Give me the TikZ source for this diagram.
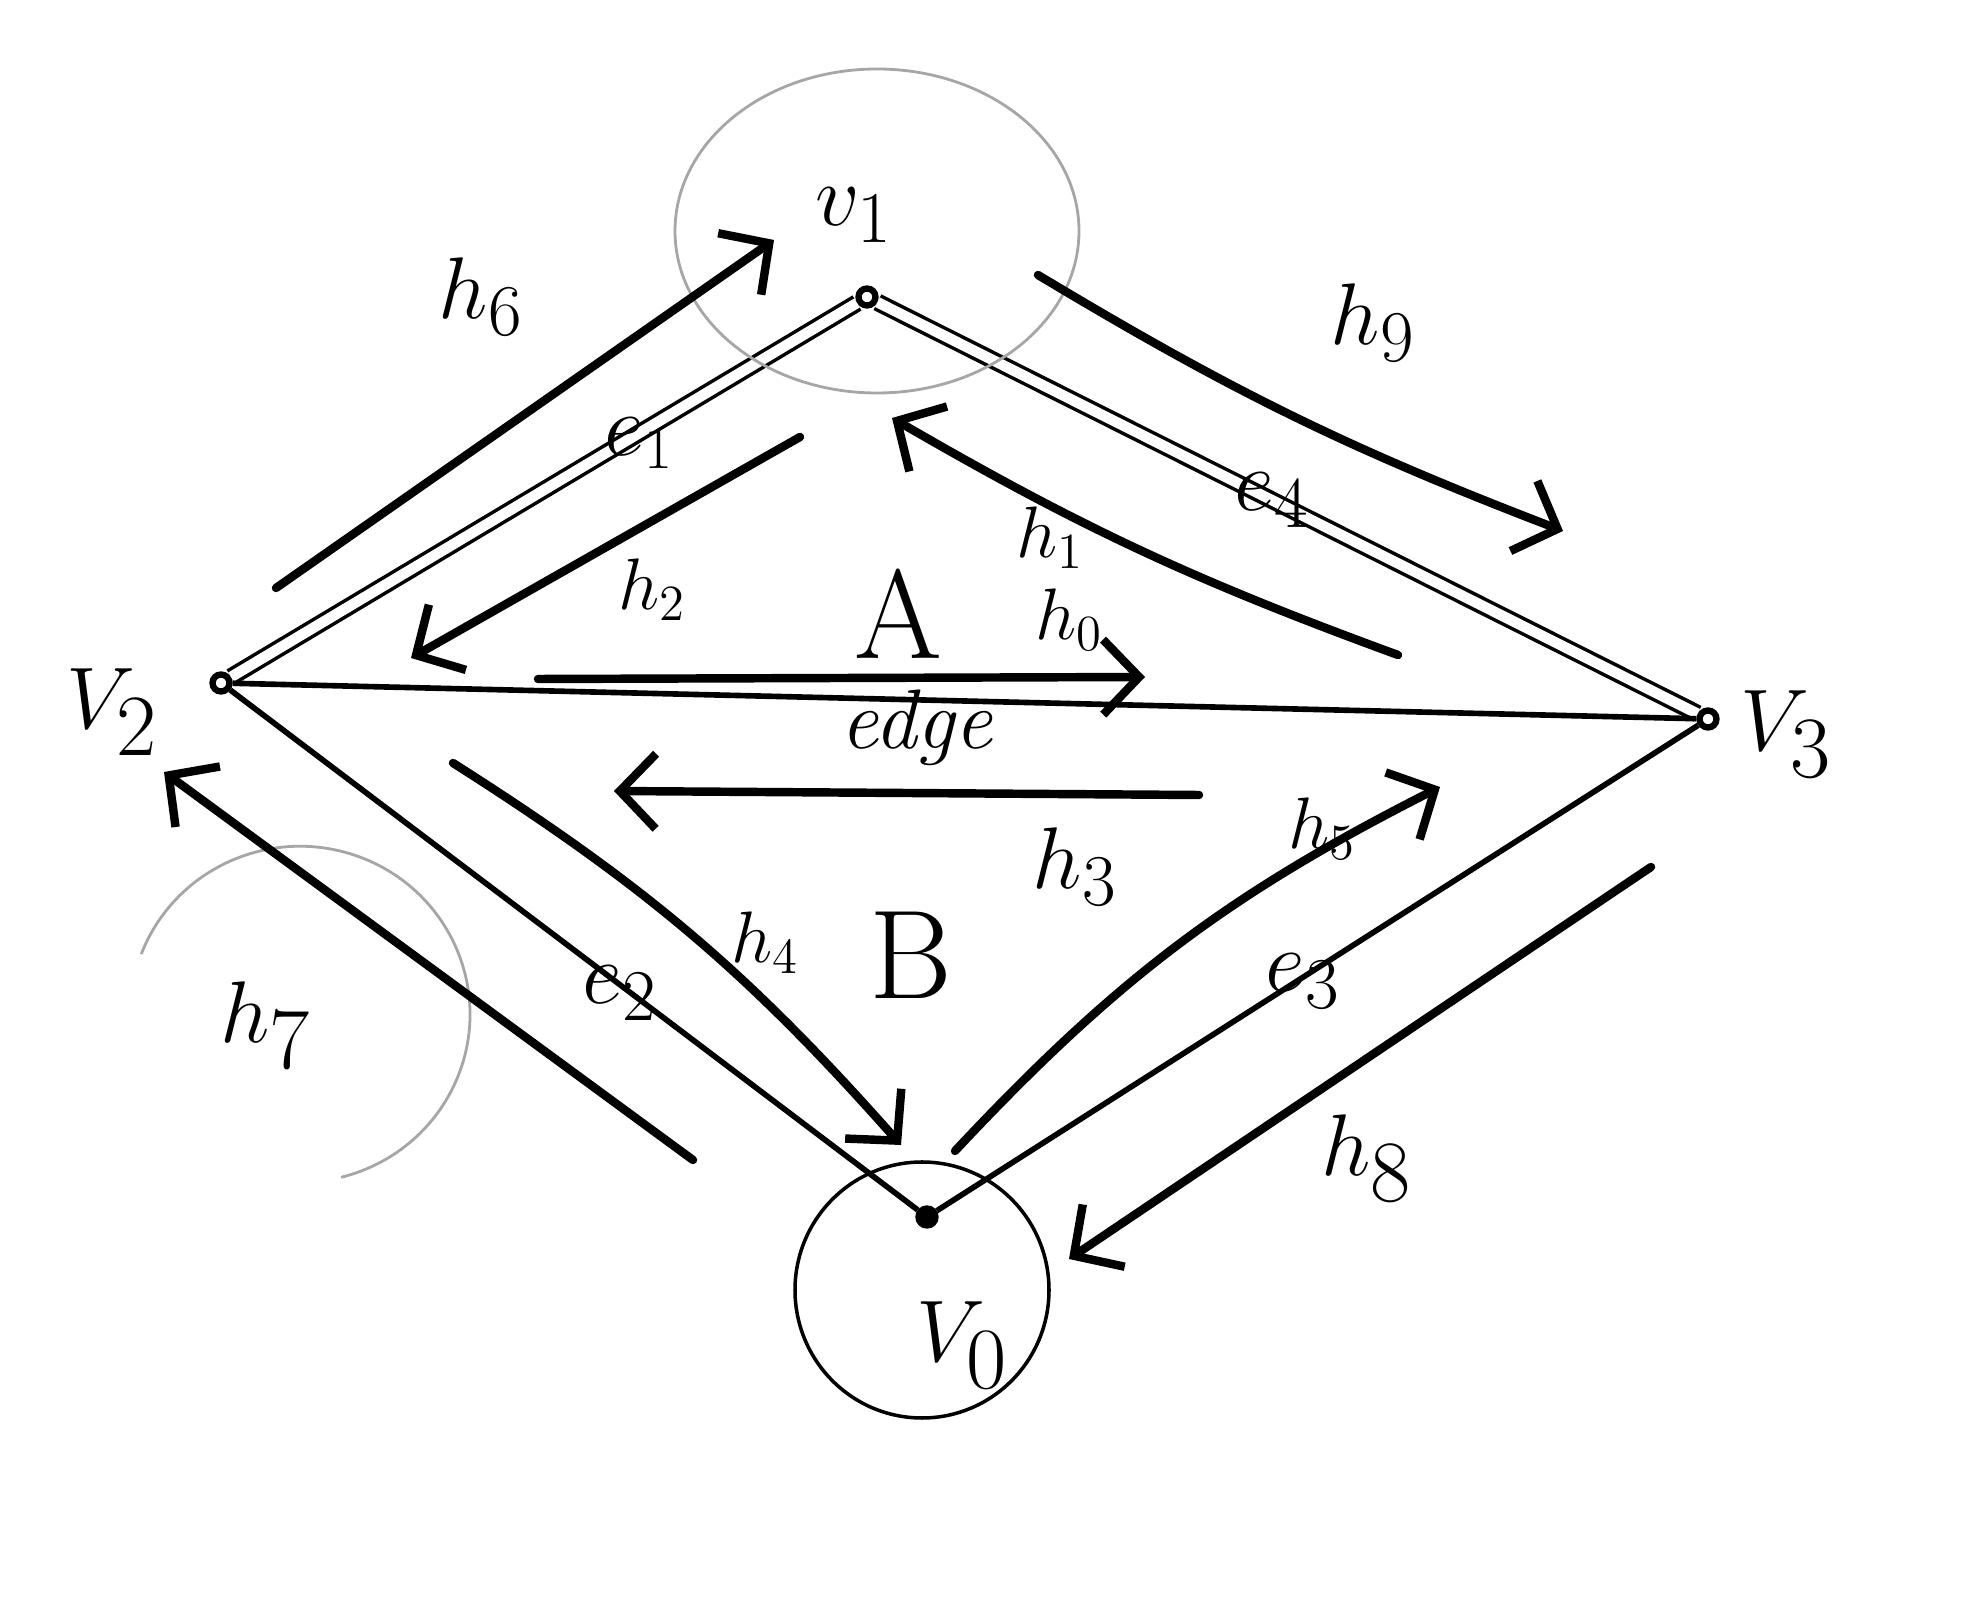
\documentclass[tikz,border=0pt]{standalone}
\usetikzlibrary{arrows.meta}

\begin{document}
\begin{tikzpicture}[x=0.01cm, y=0.01cm,
                vert/.style={circle, draw, line width=1.8pt, inner sep=0pt, minimum size=0.17cm},
                tag/.style={font=\fontsize{#1}{#1}\selectfont, inner sep=0pt},
                tag/.default=24,
                side/.style={line width=1.6pt},
                twin/.style={line width=1pt, double, double distance=3pt},
                half/.style={line width=2.4pt, line cap=round, -{Straight Barb[length=0.36cm, width=0.75cm, line width=2.4pt]}},
                ring/.style={gray!70, line width=0.8pt}
            ]
            \useasboundingbox (0,0) rectangle (1984,-1598);
            % vertices
            \node (v1) [vert] at (867,-297) {};
            \node (v2) [vert] at (221,-683) {};
            \node (v3) [vert] at (1708,-719) {};
            \node (v0) [vert, fill=black] at (927,-1217) {};
            % edges
            \draw[twin] (v1) -- (v2);
            \draw[twin] (v1) -- (v3);
            \draw[side] (v2) -- (v3);
            \draw[side] (v2) -- (v0);
            \draw[side] (v0) -- (v3);
            % rings
            \draw[ring] (877,-231) ellipse [x radius=202, y radius=162];
            \draw[ring] (300,-1015) ++(159:170) arc [start angle=159, end angle=-76, x radius=170, y radius=168];
            \draw[line width=1pt] (922,-1290) ellipse [x radius=127, y radius=128];
            % half edges
            \coordinate (h6s) at (276,-588);   \coordinate (h6e) at (774,-240);
            \coordinate (h2s) at (800,-437);   \coordinate (h2e) at (411,-658);
            \coordinate (h9s) at (1038,-275);  \coordinate (h9e) at (1563,-531);
            \coordinate (h1s) at (1398,-655);  \coordinate (h1e) at (892,-418);
            \coordinate (h0s) at (538,-679);   \coordinate (h0e) at (1145,-677);
            \coordinate (h3s) at (1199,-795);  \coordinate (h3e) at (614,-791);
            \coordinate (h4s) at (453,-763);   \coordinate (h4e) at (901,-1145);
            \coordinate (h5s) at (955,-1151);  \coordinate (h5e) at (1440,-787);
            \coordinate (h8s) at (1651,-867);  \coordinate (h8e) at (1069,-1259);
            \coordinate (h7s) at (693,-1160);  \coordinate (h7e) at (164,-772);
            \draw[half] (h6s) -- (h6e);
            \draw[half] (h2s) -- (h2e);
            \draw[half] (h9s) to[bend right=5] (h9e);
            \draw[half] (h1s) to[bend left=5] (h1e);
            \draw[half] (h0s) -- (h0e);
            \draw[half] (h3s) -- (h3e);
            \draw[half] (h4s) to[bend left=8] (h4e);
            \draw[half] (h5s) to[bend left=10] (h5e);
            \draw[half] (h8s) -- (h8e);
            \draw[half] (h7s) -- (h7e);
            % labels
            \node (lv1) [tag=30] at (854,-215) {$v_1$};
            \node (lv2) [tag=34] at (112,-712) {$V_2$};
            \node (lv3) [tag=34] at (1786,-734) {$V_3$};
            \node (lv0) [tag=34] at (962,-1345) {$V_0$};
            \node (l6) [tag=30] at (481,-297) {$h_6$};
            \node (l9) [tag=32] at (1373,-323) {$h_9$};
            \node (le1) [tag=26] at (639,-443) {$e_1$};
            \node (le4) [tag=30] at (1272,-500) {$e_4$};
            \node (l2) [tag=22] at (652,-590) {$h_2$};
            \node (lA) [tag=36] at (898,-614) {A};
            \node (l1) [tag=22] at (1050,-538) {$h_1$};
            \node (l0) [tag=22] at (1069,-620) {$h_0$};
            \node (ledge) [tag=24] at (917,-728) {\textit{edge}};
            \node (l3) [tag=30] at (1075,-867) {$h_3$};
            \node (l4) [tag=22] at (765,-943) {$h_4$};
            \node (lB) [tag=36] at (911,-955) {B};
            \node (l5) [tag=22] at (1322,-829) {$h_5$};
            \node (le2) [tag=28] at (620,-993) {$e_2$};
            \node (le3) [tag=28] at (1303,-981) {$e_3$};
            \node (l7) [tag=44] at (266,-1025) {$h_7$};
            \node (l8) [tag=34] at (1367,-1158) {$h_8$};
\end{tikzpicture}
\end{document}
